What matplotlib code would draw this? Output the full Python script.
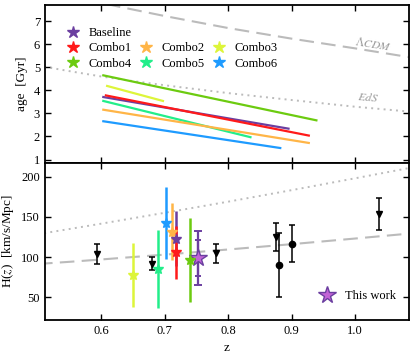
import matplotlib.pyplot as plt
from matplotlib.lines import Line2D

plt.rcParams['font.family'] = ['Liberation Serif', 'DejaVu Serif']
plt.rcParams['mathtext.fontset'] = 'stix'
plt.rcParams['font.size'] = 9

# combinations: name, colour, age line (z0, z1, age0, age1), H(z) point (z, H, err)
names = ["Baseline", "Combo1", "Combo2", "Combo3", "Combo4", "Combo5", "Combo6"]
colors = ["#6B3FA0", "#FF1A1A", "#FFB547", "#DDF53A", "#6CCB10", "#22EE8A", "#1E9BFF"]
age_z0 = [0.603, 0.607, 0.603, 0.609, 0.603, 0.603, 0.603]
age_z1 = [0.895, 0.927, 0.927, 0.697, 0.939, 0.835, 0.882]
age_a0 = [3.71, 3.78, 3.16, 4.19, 4.65, 3.54, 2.66]
age_a1 = [2.34, 2.04, 1.72, 3.54, 2.70, 1.97, 1.50]
hz_z = [0.717, 0.717, 0.712, 0.650, 0.739, 0.690, 0.702]
hz_h = [122.8, 106.3, 131.9, 77.8, 96.8, 85.3, 142.3]
hz_err = [34, 33, 35, 40, 52, 48, 45]

# this work
tw_z = 0.752
tw_h = 99
tw_err_stat = 22
tw_err_tot = 33

# literature cosmic chronometers
cc_tri_z = [0.593, 0.680, 0.781, 0.875, 1.037]
cc_tri_h = [104, 92, 105, 125, 154]
cc_tri_err = [13, 8, 12, 17, 20]
cc_dot_z = [0.880, 0.900]
cc_dot_h = [90, 117]
cc_dot_err = [40, 23]

# reference curves
curve_z = [0.50, 0.55, 0.60, 0.634, 0.70, 0.80, 0.90, 1.00, 1.085, 1.10]
lcdm_age = [8.48, 8.11, 7.79, 7.59, 7.22, 6.70, 6.24, 5.82, 5.44, 5.42]
eds_age = [5.07, 4.83, 4.60, 4.46, 4.22, 3.88, 3.58, 3.29, 3.08, 3.04]
lcdm_h = [91.6, 94.3, 97.2, 99.3, 103.2, 109.6, 116.2, 123.2, 129.3, 130.5]
eds_h = [128.6, 135.1, 141.7, 146.3, 155.2, 169.0, 183.3, 198.0, 210.7, 213.0]

fig = plt.figure(figsize=(4.15, 3.56), dpi=100)
ax1 = fig.add_axes([0.1084, 0.5421, 0.8771, 0.4439])
ax2 = fig.add_axes([0.1084, 0.1011, 0.8771, 0.4410], sharex=ax1)

for ax in (ax1, ax2):
    ax.tick_params(direction='in', top=True, right=True, length=4, width=1.0, labelsize=9)
    for s in ax.spines.values():
        s.set_linewidth(1.3)

# --- top panel: ages
ax1.plot(curve_z, lcdm_age, color='#bbbbbb', ls=(0, (7, 3.5)), lw=1.5)
ax1.plot(curve_z, eds_age, color='#bbbbbb', ls=(0, (1, 2.2)), lw=1.4)
ax1.text(1.028, 5.97, r'$\Lambda CDM$', color='#999999', fontsize=8.5,
         ha='center', va='center', rotation=-9)
ax1.text(1.02, 3.68, r'$EdS$', color='#999999', fontsize=8.5,
         ha='center', va='center', rotation=-5)

order = [4, 3, 5, 2, 0, 1, 6]
for i in order:
    ax1.plot([age_z0[i], age_z1[i]], [age_a0[i], age_a1[i]], color=colors[i], lw=1.6)

h = [Line2D([], [], ls='none', marker='*', ms=9, color=c) for c in colors]
blank = Line2D([], [], ls='none')
handles = [h[0], h[1], h[4], blank, h[2], h[5], blank, h[3], h[6]]
labels = [names[0], names[1], names[4], '', names[2], names[5], '', names[3], names[6]]
ax1.legend(handles, labels, ncol=3, loc='upper left', bbox_to_anchor=(0.03, 0.93),
           frameon=False, fontsize=9, handlelength=1.0, handletextpad=0.7,
           columnspacing=0.68, labelspacing=0.25)

ax1.set_ylim(0.85, 7.7)
ax1.set_yticks([1, 2, 3, 4, 5, 6, 7])
ax1.set_ylabel('age  [Gyr]', fontsize=9.5)
plt.setp(ax1.get_xticklabels(), visible=False)

# --- bottom panel: H(z)
ax2.plot(curve_z, lcdm_h, color='#bbbbbb', ls=(0, (7, 3.5)), lw=1.5)
ax2.plot(curve_z, eds_h, color='#bbbbbb', ls=(0, (1, 2.2)), lw=1.4)

ax2.errorbar(cc_tri_z, cc_tri_h, yerr=cc_tri_err, fmt='v', color='black',
             ms=5, capsize=2.5, elinewidth=1.1, capthick=1.1)
ax2.errorbar(cc_dot_z, cc_dot_h, yerr=cc_dot_err, fmt='o', color='black',
             ms=4.5, capsize=2.5, elinewidth=1.1, capthick=1.1)

for i in [3, 5, 6, 2, 0, 1, 4]:
    ax2.errorbar(hz_z[i], hz_h[i], yerr=hz_err[i], fmt='*', color=colors[i],
                 ms=7, elinewidth=1.8, capsize=0)

ax2.errorbar(tw_z, tw_h, yerr=tw_err_tot, fmt='none', ecolor='#6B3FA0',
             elinewidth=1.6, capsize=3, capthick=1.4)
ax2.errorbar(tw_z, tw_h, yerr=tw_err_stat, fmt='none', ecolor='#6B3FA0',
             elinewidth=1.6, capsize=2.5, capthick=1.4)
tw, = ax2.plot(tw_z, tw_h, ls='none', marker='*', ms=13, mfc='#C264D6',
               mec='#6B3FA0', mew=1.0)
ax2.legend([tw], ['This work'], loc='lower right', bbox_to_anchor=(0.995, 0.04),
           frameon=False, fontsize=9, handletextpad=0.8, handlelength=1.2)

ax2.set_ylim(22, 217)
ax2.set_yticks([50, 100, 150, 200])
ax2.set_xlim(0.511, 1.085)
ax2.set_xticks([0.6, 0.7, 0.8, 0.9, 1.0])
ax2.set_xlabel('z', fontsize=9.5)
ax2.set_ylabel(r'H($z$)  [km/s/Mpc]', fontsize=9.5)

fig.savefig('out.png', dpi=100)
